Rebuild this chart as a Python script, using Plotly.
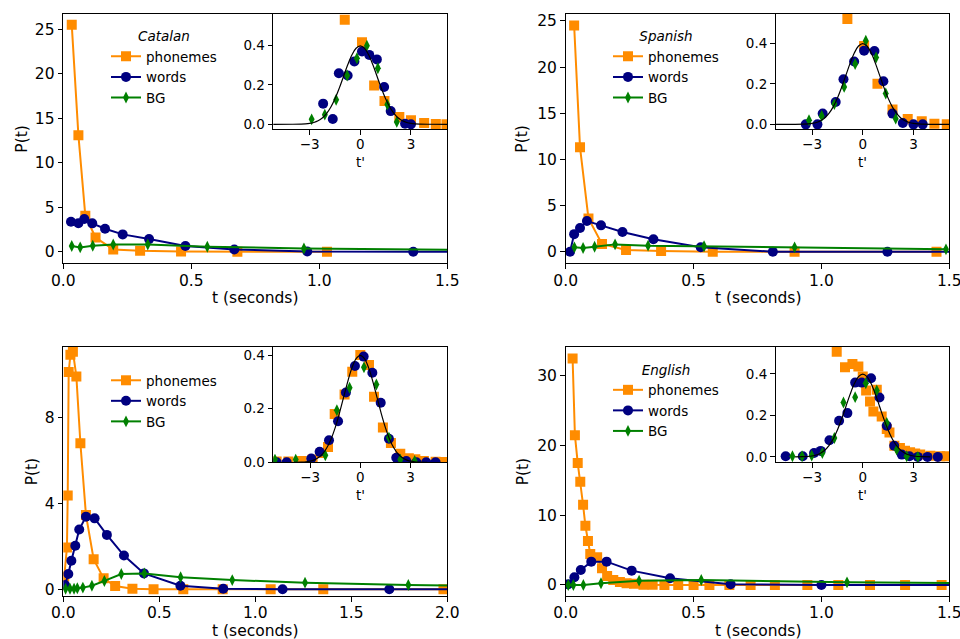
import plotly.graph_objects as go

W, H = 960, 639
ORANGE, NAVY, GREEN = "#ff8c00", "#000080", "#008000"
FONT = "DejaVu Sans"

# ---------------- data ----------------
# Catalan main
cat_ph_t = [0.033, 0.059, 0.086, 0.126, 0.195, 0.30, 0.46, 0.68, 1.03]
cat_ph_p = [25.5, 13.1, 4.05, 1.6, 0.26, 0.1, 0.02, 0.0, 0.0]
cat_wd_t = [0.030, 0.059, 0.082, 0.113, 0.163, 0.232, 0.335, 0.477, 0.668, 0.953, 1.367, 1.9]
cat_wd_p = [3.37, 3.2, 3.67, 3.19, 2.59, 1.95, 1.42, 0.64, 0.26, 0.02, 0.0, 0.0]
cat_bg_t = [0.033, 0.066, 0.115, 0.195, 0.33, 0.5625, 0.94, 1.62]
cat_bg_p = [0.64, 0.49, 0.67, 0.82, 0.82, 0.56, 0.37, 0.18]
# Catalan inset
cat_ph_s = [-0.92, 0.1, 0.82, 1.43, 2.31, 3.0, 3.78, 4.47, 5.1]
cat_ph_q = [0.532, 0.417, 0.197, 0.118, 0.037, 0.02, 0.007, 0.002, 0.0]
cat_wd_s = [-2.2, -1.63, -1.27, -0.75, -0.35, 0.1, 0.53, 0.98, 1.41, 1.8, 2.65, 3.0]
cat_wd_q = [0.105, 0.027, 0.26, 0.248, 0.32, 0.37, 0.353, 0.33, 0.19, 0.067, 0.003, 0.0]
cat_bg_s = [-2.88, -2.1, -1.43, -0.78, -0.2, 0.39, 1.04, 1.6, 2.16]
cat_bg_q = [0.025, 0.049, 0.125, 0.248, 0.336, 0.4, 0.285, 0.1, 0.012]

# Spanish main
spa_ph_t = [0.033, 0.056, 0.089, 0.142, 0.236, 0.373, 0.575, 0.895, 1.45]
spa_ph_p = [24.5, 11.3, 3.6, 0.83, 0.18, 0.07, 0.0, 0.0, 0.0]
spa_wd_t = [0.017, 0.033, 0.056, 0.083, 0.138, 0.222, 0.343, 0.528, 0.81, 1.258, 1.7]
spa_wd_p = [0.0, 1.9, 2.56, 3.32, 2.85, 2.13, 1.34, 0.47, 0.0, 0.0, 0.0]
spa_bg_t = [0.034, 0.068, 0.113, 0.193, 0.322, 0.541, 0.895, 1.487]
spa_bg_p = [0.47, 0.4, 0.54, 0.79, 0.65, 0.58, 0.47, 0.25]
# Spanish inset
spa_ph_s = [-0.91, 0.08, 0.87, 1.76, 2.66, 3.49, 4.24, 4.97]
spa_ph_q = [0.52, 0.387, 0.2, 0.073, 0.026, 0.015, 0.003, 0.0]
spa_wd_s = [-3.37, -2.68, -2.37, -1.6, -1.14, -0.51, 0.08, 0.69, 1.22, 1.76, 2.37, 3.0, 3.55]
spa_wd_q = [0.0, 0.0, 0.053, 0.11, 0.223, 0.31, 0.364, 0.362, 0.213, 0.053, 0.007, 0.0, 0.0]
spa_bg_s = [-3.18, -2.43, -1.68, -1.1, -0.45, 0.18, 0.79, 1.36, 1.95]
spa_bg_q = [0.02, 0.041, 0.1, 0.185, 0.298, 0.413, 0.33, 0.152, 0.028]

# Third language (no label) main
thr_ph_t = [0.005, 0.019, 0.023, 0.028, 0.037, 0.050, 0.068, 0.089, 0.118, 0.158, 0.21,
            0.27, 0.36, 0.47, 0.625, 0.83, 1.08, 1.354, 1.98]
thr_ph_p = [0.6, 1.94, 4.36, 10.1, 10.9, 11.05, 9.9, 6.79, 3.46, 1.4, 0.51,
            0.155, 0.03, 0.0, 0.0, 0.0, 0.0, 0.0, 0.0]
thr_wd_t = [0.009, 0.026, 0.042, 0.0625, 0.083, 0.118, 0.163, 0.227, 0.316, 0.42, 0.61,
            0.833, 1.142, 1.698, 2.4]
thr_wd_p = [0.2, 0.71, 1.33, 2.03, 2.78, 3.38, 3.3, 2.53, 1.57, 0.74, 0.17, 0.03, 0.0, 0.0, 0.0]
thr_bg_t = [0.012, 0.035, 0.056, 0.073, 0.102, 0.149, 0.214, 0.302, 0.422, 0.611, 0.88,
            1.259, 1.797, 2.3]
thr_bg_p = [0.03, 0.03, 0.03, 0.05, 0.08, 0.17, 0.39, 0.71, 0.74, 0.56, 0.43, 0.31, 0.2, 0.14]
# Third language inset
thr_ph_s = [-5.0, -4.3, -3.5, -2.85, -2.35, -1.93, -1.53, -0.94, -0.48, 0.0, 0.52, 0.82,
            1.35, 1.83, 2.39, 2.9, 3.29, 3.8, 4.5, 5.0]
thr_ph_q = [0.003, 0.003, 0.005, 0.01, 0.035, 0.057, 0.18, 0.253, 0.338, 0.40, 0.363, 0.244,
            0.13, 0.072, 0.032, 0.015, 0.011, 0.005, 0.002, 0.001]
thr_wd_s = [-5.0, -4.4, -2.93, -2.43, -1.87, -1.33, -0.86, -0.32, 0.2, 0.72, 1.22, 1.71,
            2.15, 2.75, 3.35, 3.94, 4.5]
thr_wd_q = [0.0, 0.0, 0.014, 0.039, 0.082, 0.153, 0.26, 0.359, 0.394, 0.334, 0.222, 0.088,
            0.017, 0.005, 0.0, 0.0, 0.0]
thr_bg_s = [-5.1, -3.86, -2.09, -1.4, -0.64, 0.22, 0.96, 1.71, 2.39, 3.25]
thr_bg_q = [0.01, 0.01, 0.026, 0.194, 0.278, 0.354, 0.29, 0.092, 0.01, 0.005]

# English main
eng_ph_t = [0.027, 0.036, 0.047, 0.057, 0.068, 0.077, 0.087, 0.096, 0.123, 0.142, 0.162,
            0.186, 0.212, 0.238, 0.267, 0.304, 0.34, 0.386, 0.44, 0.5, 0.562, 0.64,
            0.723, 0.818, 0.945, 1.066, 1.19, 1.327, 1.47]
eng_ph_p = [32.5, 21.5, 17.5, 14.8, 11.5, 8.5, 6.3, 4.45, 3.97, 2.4, 1.3,
            0.72, 0.43, 0.24, 0.19, 0.05, 0.02, 0.0, 0.0, 0.0, 0.0, 0.0,
            0.0, 0.0, 0.0, 0.0, 0.0, 0.0, 0.0]
eng_wd_t = [0.01, 0.034, 0.059, 0.1, 0.16, 0.258, 0.408, 0.645, 1.0, 1.7]
eng_wd_p = [0.1, 1.1, 2.15, 3.35, 3.35, 2.06, 0.96, 0.1, 0.0, 0.0]
eng_bg_t = [0.01, 0.03, 0.069, 0.138, 0.287, 0.53, 1.1, 1.8]
eng_bg_p = [0.0, 0.0, 0.0, 0.24, 0.62, 0.72, 0.38, 0.2]
# English inset
eng_ph_s = [-1.54, -1.05, -0.61, -0.26, 0.0, 0.2, 0.43, 0.63, 0.83, 1.12, 1.42, 1.58,
            1.87, 2.2, 2.5, 2.8, 3.1, 3.4, 4.0, 4.58, 4.97]
eng_ph_q = [0.507, 0.432, 0.448, 0.435, 0.387, 0.32, 0.267, 0.219, 0.323, 0.195, 0.134, 0.118,
            0.054, 0.043, 0.03, 0.022, 0.016, 0.011, 0.006, 0.003, 0.003]
eng_wd_s = [-4.56, -3.55, -2.88, -2.49, -1.97, -1.4, -0.91, -0.45, -0.06, 0.49, 0.99, 1.42,
            1.86, 2.31, 2.76, 3.26, 3.83, 4.44]
eng_wd_q = [0.003, 0.003, 0.019, 0.029, 0.08, 0.174, 0.211, 0.358, 0.358, 0.379, 0.286, 0.15,
            0.054, 0.011, 0.003, 0.0, 0.0, 0.0]
eng_bg_s = [-4.16, -3.59, -3.02, -2.39, -1.68, -1.14, -0.45, 0.18, 0.83, 1.42, 2.01, 2.6, 3.26]
eng_bg_q = [0.003, 0.003, 0.006, 0.019, 0.091, 0.262, 0.288, 0.355, 0.32, 0.163, 0.035, 0.003, 0.0]

# Reference curve (black line)
ref_s = [-5.2, -4.0, -3.5, -3.25, -3.0, -2.75, -2.5, -2.25, -2.0, -1.75, -1.5, -1.25, -1.0,
         -0.75, -0.5, -0.25, 0.0, 0.25, 0.5, 0.75, 1.0, 1.25, 1.5, 1.75, 2.0, 2.25, 2.5,
         2.75, 3.0, 3.25, 3.5, 4.0, 5.2]
ref_q = [0.0, 0.0001, 0.0009, 0.002, 0.0044, 0.0091, 0.0175, 0.0317, 0.054, 0.0863, 0.1295,
         0.1826, 0.242, 0.3011, 0.3521, 0.3867, 0.3989, 0.3867, 0.3521, 0.3011, 0.242, 0.1826,
         0.1295, 0.0863, 0.054, 0.0317, 0.0175, 0.0091, 0.0044, 0.002, 0.0009, 0.0001, 0.0]

languages = ["Catalan", "Spanish", "", "English"]
series_names = ["phonemes", "words", "BG"]

main_data = [
    [(cat_ph_t, cat_ph_p), (cat_wd_t, cat_wd_p), (cat_bg_t, cat_bg_p)],
    [(spa_ph_t, spa_ph_p), (spa_wd_t, spa_wd_p), (spa_bg_t, spa_bg_p)],
    [(thr_ph_t, thr_ph_p), (thr_wd_t, thr_wd_p), (thr_bg_t, thr_bg_p)],
    [(eng_ph_t, eng_ph_p), (eng_wd_t, eng_wd_p), (eng_bg_t, eng_bg_p)],
]
inset_data = [
    [(cat_ph_s, cat_ph_q), (cat_wd_s, cat_wd_q), (cat_bg_s, cat_bg_q)],
    [(spa_ph_s, spa_ph_q), (spa_wd_s, spa_wd_q), (spa_bg_s, spa_bg_q)],
    [(thr_ph_s, thr_ph_q), (thr_wd_s, thr_wd_q), (thr_bg_s, thr_bg_q)],
    [(eng_ph_s, eng_ph_q), (eng_wd_s, eng_wd_q), (eng_bg_s, eng_bg_q)],
]

# ---------------- layout (pixel boxes) ----------------
main_box = [(63.3, 447.3, 14, 263.3), (565.7, 949.3, 14, 263.3),
            (63.3, 447.3, 346.7, 596), (565.7, 949.3, 346.7, 596)]
inset_box = [(273.3, 447.3, 14, 129), (775.7, 949.3, 14, 129),
             (273.3, 447.3, 346.7, 462.3), (775.7, 949.3, 346.7, 462.3)]
main_xr = [[0, 1.5], [0, 1.5], [0, 2.0], [0, 1.5]]
main_yr = [[-1.3, 26.72], [-1.26, 25.75], [-0.31, 11.28], [-1.58, 34.2]]
main_yt = [[0, 5, 10, 15, 20, 25], [0, 5, 10, 15, 20, 25], [0, 4, 8], [0, 10, 20, 30]]
inset_yr = [[-0.024, 0.561], [-0.023, 0.545], [0.0, 0.431], [-0.026, 0.531]]
inset_xr = [[-5.15, 5.15], [-5.15, 5.12], [-5.2, 5.2], [-5.15, 5.12]]
ref_clip = [(-5.2, 5.2), (-5.2, 5.2), (-4.0, 4.0), (-4.3, 4.3)]

markers = [dict(symbol="square", size=10), dict(symbol="circle", size=10),
           dict(symbol="diamond-tall", size=8.5)]
colors = [ORANGE, NAVY, GREEN]

MAIN_FS, INSET_FS, LEG_FS = 15.5, 13.5, 13.5

def dx(px):
    return px / W

def dy(py):
    return 1 - py / H

fig = go.Figure()
layout = dict(width=W, height=H, margin=dict(l=0, r=0, t=0, b=0, autoexpand=False),
              paper_bgcolor="white", plot_bgcolor="white",
              font=dict(family=FONT, color="black"), showlegend=True)

axis_common = dict(showline=True, mirror=True, linecolor="black", linewidth=1,
                   ticks="outside", ticklen=4.7, tickwidth=1, tickcolor="black",
                   showgrid=False, zeroline=False, automargin=False,
                   ticklabeloverflow="allow")

legend_pos = [(106, 23.5), (608, 23.5), (106, 365), (608, 357)]
annotations = []

for i in range(4):
    mx = "x" if i == 0 else f"x{2*i+1}"
    my = "y" if i == 0 else f"y{2*i+1}"
    ix, iy = f"x{2*i+2}", f"y{2*i+2}"
    mxk = "xaxis" if i == 0 else f"xaxis{2*i+1}"
    myk = "yaxis" if i == 0 else f"yaxis{2*i+1}"
    ixk, iyk = f"xaxis{2*i+2}", f"yaxis{2*i+2}"
    leg = "legend" if i == 0 else f"legend{i+1}"

    for k in range(3):
        t, p = main_data[i][k]
        fig.add_trace(go.Scatter(x=t, y=p, mode="lines+markers", name=series_names[k],
                                 xaxis=mx, yaxis=my, legend=leg,
                                 line=dict(color=colors[k], width=2),
                                 marker=dict(color=colors[k], **markers[k])))
    for k in range(3):
        s, q = inset_data[i][k]
        fig.add_trace(go.Scatter(x=s, y=q, mode="markers", name=series_names[k],
                                 xaxis=ix, yaxis=iy, showlegend=False,
                                 marker=dict(color=colors[k], **markers[k])))
    lo, hi = ref_clip[i]
    rs = [v for v in ref_s if lo <= v <= hi]
    rq = [ref_q[j] for j, v in enumerate(ref_s) if lo <= v <= hi]
    fig.add_trace(go.Scatter(x=rs, y=rq, mode="lines", xaxis=ix, yaxis=iy, showlegend=False,
                             line=dict(color="black", width=1.2, shape="spline")))

    x0, x1, y0, y1 = main_box[i]
    layout[mxk] = dict(axis_common, domain=[dx(x0), dx(x1)], range=main_xr[i], anchor=my,
                       tickvals=[0, 0.5, 1.0, 1.5, 2.0][: (5 if i == 2 else 4)],
                       tickformat=".1f", tickfont=dict(size=MAIN_FS),
                       ticklabelstandoff=-2)
    layout[myk] = dict(axis_common, domain=[dy(y1), dy(y0)], range=main_yr[i], anchor=mx,
                       tickvals=main_yt[i], tickfont=dict(size=MAIN_FS))
    x0, x1, y0, y1 = inset_box[i]
    layout[ixk] = dict(axis_common, domain=[dx(x0), dx(x1)], range=inset_xr[i], anchor=iy,
                       tickvals=[-3, 0, 3], ticktext=["\u22123", "0", "3"],
                       tickfont=dict(size=INSET_FS), ticklabelstandoff=-2)
    layout[iyk] = dict(axis_common, domain=[dy(y1), dy(y0)], range=inset_yr[i], anchor=ix,
                       tickvals=[0.0, 0.2, 0.4], tickformat=".1f", tickfont=dict(size=INSET_FS))

    lx, ly = legend_pos[i]
    ldict = dict(x=dx(lx), y=dy(ly), xanchor="left", yanchor="top",
                 bgcolor="rgba(0,0,0,0)", font=dict(size=LEG_FS, family=FONT),
                 itemwidth=30, tracegroupgap=0)
    if languages[i]:
        ldict["title"] = dict(text=f"<i>{languages[i]}</i>", side="top center",
                              font=dict(size=LEG_FS, family=FONT))
    layout[leg] = ldict

    # axis titles
    mx0, mx1, my0, my1 = main_box[i]
    xt_y = 298 if i < 2 else 631
    annotations.append(dict(text="t (seconds)", x=dx((mx0 + mx1) / 2), y=dy(xt_y),
                            xref="paper", yref="paper", showarrow=False,
                            font=dict(size=MAIN_FS), xanchor="center", yanchor="middle"))
    pt_x = [22, 522, 32, 523][i]
    annotations.append(dict(text="P(t)", x=dx(pt_x), y=dy((my0 + my1) / 2), textangle=-90,
                            xref="paper", yref="paper", showarrow=False,
                            font=dict(size=MAIN_FS), xanchor="center", yanchor="middle"))
    ix0, ix1, iy0, iy1 = inset_box[i]
    zero_px = ix0 + (0 - inset_xr[i][0]) / (inset_xr[i][1] - inset_xr[i][0]) * (ix1 - ix0)
    annotations.append(dict(text="t'", x=dx(zero_px), y=dy(iy1 + 33),
                            xref="paper", yref="paper", showarrow=False,
                            font=dict(size=INSET_FS), xanchor="center", yanchor="middle"))

layout["annotations"] = annotations
fig.update_layout(**layout)
fig.write_html("out.html", config={"displayModeBar": False},
               post_script="document.body.style.margin='0';"
                           "document.body.style.overflow='hidden';")
